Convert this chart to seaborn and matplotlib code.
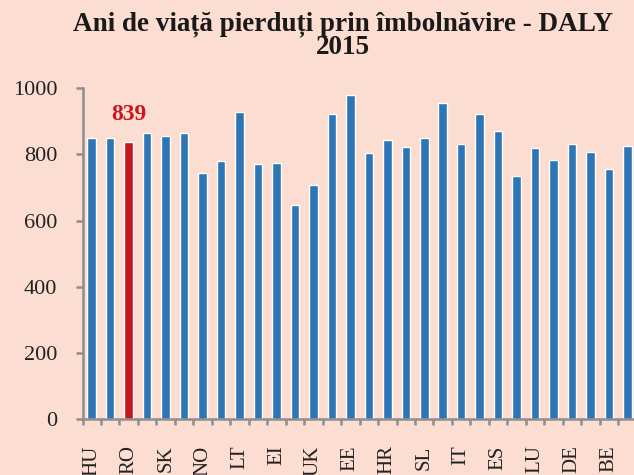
import matplotlib
matplotlib.use("Agg")
import matplotlib.pyplot as plt
import numpy as np
import pandas as pd
import seaborn as sns

# valori DALY 2015, 30 de bare
valori = [850, 850, 839, 865, 855, 865, 743, 781, 927, 772,
          775, 646, 708, 922, 979, 805, 845, 823, 849, 957,
          833, 922, 871, 735, 820, 782, 833, 807, 757, 826]
# doar etichetele vizibile (una din doua bare)
etichete = ["HU", "RO", "SK", "NO", "LT", "EI", "UK", "EE",
            "HR", "SL", "IT", "ES", "LU", "DE", "BE"]
index_ro = 2
eticheta_ro = "839"

fundal = "#FCDDD1"
albastru = "#2E75B6"
rosu = "#C8161E"
gri = "#8E8E8E"

sns.set_theme(style="ticks")
plt.rcParams["font.family"] = ["Liberation Serif", "DejaVu Serif"]

df = pd.DataFrame({"poz": list(range(len(valori))), "val": valori})
culori = [rosu if i == index_ro else albastru for i in range(len(valori))]

fig = plt.figure(figsize=(6.34, 4.75), dpi=100, facecolor=fundal)
ax = fig.add_axes([82.5 / 634, 1 - 419 / 475, (636.7 - 82.5) / 634, (419 - 88.3) / 475])
ax.set_facecolor(fundal)

sns.barplot(data=df, x="poz", y="val", hue="poz", palette=culori,
            legend=False, width=0.46, saturation=1, ax=ax)

ax.set_xlim(-0.5, len(valori) - 0.5)
ax.set_ylim(0, 1000)
ax.set_yticks(np.arange(0, 1001, 200))
ax.tick_params(axis="y", left=True, length=5, width=1.8, color=gri, pad=13,
               labelsize=16, labelcolor="#222222")

# etichete pe bare pare, ticks la granite
ax.set_xticks(range(0, len(valori), 2))
ax.set_xticklabels(etichete, rotation=90, va="top", ha="center")
ax.tick_params(axis="x", which="major", length=0, pad=19, labelsize=15, labelcolor="#222222")
ax.set_xticks(np.arange(-0.5, len(valori), 1), minor=True)
ax.tick_params(axis="x", which="minor", bottom=True, length=4, width=1.8, color=gri)
ax.set_xlabel("")
ax.set_ylabel("")

for s in ["top", "right"]:
    ax.spines[s].set_visible(False)
for s in ["left", "bottom"]:
    ax.spines[s].set_color(gri)
    ax.spines[s].set_linewidth(1.8)

ax.text(index_ro, 903, eticheta_ro, color=rosu, fontsize=17, fontweight="bold",
        ha="center", va="baseline")

fig.text(343 / 634, 1 - 30 / 475, "Ani de viață pierduți prin îmbolnăvire - DALY",
         ha="center", va="baseline", fontsize=19.5, fontweight="bold", color="#1a1a1a")
fig.text(343 / 634, 1 - 54 / 475, "2015",
         ha="center", va="baseline", fontsize=19.5, fontweight="bold", color="#1a1a1a")

fig.savefig("out.png", dpi=100, facecolor=fundal)
